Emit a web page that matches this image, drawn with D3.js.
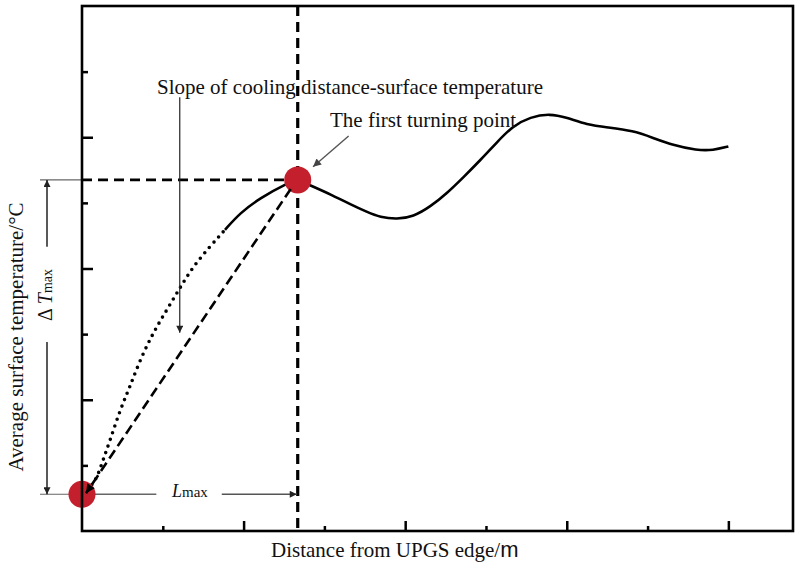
<!DOCTYPE html>
<html>
<head>
<meta charset="utf-8">
<script src="https://cdn.jsdelivr.net/npm/d3@7"></script>
<style>
  html, body { margin: 0; padding: 0; background: #fff; }
  svg { display: block; }
  text { font-family: 'Liberation Serif', 'Times New Roman', serif; fill: #111; }
</style>
</head>
<body>
<div id="chart"></div>
<script>
// rising part, from the pavement edge to the first turning point
const risingX = [0, 0.10, 0.19, 0.26, 0.35, 0.47, 0.59, 0.72, 0.88, 1.05, 1.21, 1.37, 1.58, 1.77, 1.96, 2.20, 2.54, 2.67];
const risingY = [0.56, 0.66, 0.82, 1.08, 1.39, 1.84, 2.19, 2.61, 3.02, 3.37, 3.70, 4.02, 4.33, 4.59, 4.85, 5.07, 5.30, 5.35];
// after the first turning point
const afterX = [2.67, 2.82, 3.11, 3.32, 3.53, 3.69, 3.90, 4.10, 4.31, 4.52, 4.72, 4.93, 5.14, 5.33, 5.55, 5.79, 6.00, 6.25, 6.50, 6.82, 7.07, 7.31, 7.61, 7.81, 8.00];
const afterY = [5.35, 5.27, 5.11, 4.98, 4.86, 4.78, 4.75, 4.79, 4.94, 5.15, 5.39, 5.65, 5.93, 6.17, 6.31, 6.36, 6.30, 6.19, 6.15, 6.10, 5.99, 5.88, 5.80, 5.80, 5.86];
const dottedUntil = 1.77;

const xMajorTicks = [2, 4, 6, 8];
const xMinorTicks = [1, 3, 5, 7];
const yMajorTicks = [2, 4, 6];
const yMinorTicks = [1, 3, 5, 7];

const startPt = { x: risingX[0], y: risingY[0] };
const turnPt = { x: risingX[risingX.length - 1], y: risingY[risingY.length - 1] };

const W = 800, H = 570;
const margin = { left: 82, top: 6, right: 7, bottom: 39 };
const width = W - margin.left - margin.right;
const height = H - margin.top - margin.bottom;

const svg = d3.select('#chart').append('svg')
  .attr('width', W)
  .attr('height', H);

const defs = svg.append('defs');
function marker(id, color, w, h) {
  defs.append('marker')
    .attr('id', id)
    .attr('viewBox', '0 0 10 10')
    .attr('refX', 10)
    .attr('refY', 5)
    .attr('markerUnits', 'userSpaceOnUse')
    .attr('markerWidth', w)
    .attr('markerHeight', h)
    .attr('orient', 'auto')
    .append('path')
    .attr('d', 'M0,0 L10,5 L0,10 z')
    .attr('fill', color);
}
marker('arrowThin', '#222', 9, 7);
marker('arrowGray', '#444', 10, 8);
marker('arrowBold', '#000', 11, 9);

const g = svg.append('g')
  .attr('transform', `translate(${margin.left},${margin.top})`);

const x = d3.scaleLinear().domain([0, 8.8]).range([0, width]);
const y = d3.scaleLinear().domain([0, 8]).range([height, 0]);

// ticks (inside the frame, no labels)
function tickAxis(axis, values, size, transform) {
  const a = g.append('g')
    .attr('transform', transform)
    .call(axis.tickValues(values).tickSizeInner(-size).tickSizeOuter(0).tickFormat(''));
  a.select('.domain').remove();
  a.selectAll('line').attr('stroke', '#000').attr('stroke-width', 2.5);
}
tickAxis(d3.axisBottom(x), xMajorTicks, 10, `translate(0,${height})`);
tickAxis(d3.axisBottom(x), xMinorTicks, 5, `translate(0,${height})`);
tickAxis(d3.axisLeft(y), yMajorTicks, 11, 'translate(0,0)');
tickAxis(d3.axisLeft(y), yMinorTicks, 6, 'translate(0,0)');

// reference dashed lines through the turning point
g.append('line')
  .attr('x1', x(turnPt.x)).attr('x2', x(turnPt.x))
  .attr('y1', 0).attr('y2', height)
  .attr('stroke', '#000').attr('stroke-width', 3.2)
  .attr('stroke-dasharray', '10,6');
g.append('line')
  .attr('x1', x(0)).attr('x2', x(turnPt.x))
  .attr('y1', y(turnPt.y)).attr('y2', y(turnPt.y))
  .attr('stroke', '#000').attr('stroke-width', 2.6)
  .attr('stroke-dasharray', '10,6');

// curves
const line = d3.line()
  .x(d => x(d[0]))
  .y(d => y(d[1]))
  .curve(d3.curveBasis);

const rising = risingX.map((v, i) => [v, risingY[i]]);
const after = afterX.map((v, i) => [v, afterY[i]]);
const dotted = rising.filter(d => d[0] <= dottedUntil);
const solid = rising.filter(d => d[0] >= dottedUntil);

g.append('path')
  .datum(dotted)
  .attr('d', line)
  .attr('fill', 'none')
  .attr('stroke', '#000')
  .attr('stroke-width', 3.6)
  .attr('stroke-linecap', 'round')
  .attr('stroke-dasharray', '0,7');

g.append('path')
  .datum(solid.concat(after.slice(1)))
  .attr('d', line)
  .attr('fill', 'none')
  .attr('stroke', '#000')
  .attr('stroke-width', 2.6)
  .attr('stroke-linejoin', 'round');

// thin guide lines left of the axis
[startPt.y, turnPt.y].forEach(v => {
  g.append('line')
    .attr('x1', -42).attr('x2', x(0))
    .attr('y1', y(v)).attr('y2', y(v))
    .attr('stroke', '#666').attr('stroke-width', 1.2);
});

// Lmax arrow
g.append('line')
  .attr('x1', x(startPt.x)).attr('x2', x(0.92))
  .attr('y1', y(startPt.y)).attr('y2', y(startPt.y))
  .attr('stroke', '#666').attr('stroke-width', 1.3);
g.append('line')
  .attr('x1', x(1.73)).attr('x2', x(turnPt.x) - 1)
  .attr('y1', y(startPt.y)).attr('y2', y(startPt.y))
  .attr('stroke', '#555').attr('stroke-width', 1.3)
  .attr('marker-end', 'url(#arrowThin)');

// red points
g.selectAll('circle.pt')
  .data([startPt, turnPt])
  .enter()
  .append('circle')
  .attr('class', 'pt')
  .attr('cx', d => x(d.x))
  .attr('cy', d => y(d.y))
  .attr('r', 13.5)
  .attr('fill', '#c41f2c');

// slope line (dashed, arrow at the start point)
g.append('line')
  .attr('x1', x(turnPt.x) - 7).attr('y1', y(turnPt.y) + 9)
  .attr('x2', x(startPt.x) + 4).attr('y2', y(startPt.y) - 1)
  .attr('stroke', '#000').attr('stroke-width', 2.6)
  .attr('stroke-dasharray', '10,5')
  .attr('marker-end', 'url(#arrowBold)');

// Slope annotation arrow
g.append('line')
  .attr('x1', x(1.21)).attr('x2', x(1.21))
  .attr('y1', y(6.61)).attr('y2', y(3.02))
  .attr('stroke', '#222').attr('stroke-width', 1.2)
  .attr('marker-end', 'url(#arrowThin)');

// turning point annotation arrow
g.append('line')
  .attr('x1', x(3.30)).attr('y1', y(6.02))
  .attr('x2', x(2.86)).attr('y2', y(5.55))
  .attr('stroke', '#555').attr('stroke-width', 1.4)
  .attr('marker-end', 'url(#arrowGray)');

// frame
g.append('rect')
  .attr('x', 0).attr('y', 0)
  .attr('width', width).attr('height', height)
  .attr('fill', 'none')
  .attr('stroke', '#000')
  .attr('stroke-width', 2.6);

// delta T arrows (left of the axis)
const dtX = -35;
g.append('line')
  .attr('x1', dtX).attr('x2', dtX)
  .attr('y1', y(4.33)).attr('y2', y(turnPt.y))
  .attr('stroke', '#222').attr('stroke-width', 1.5)
  .attr('marker-end', 'url(#arrowThin)');
g.append('line')
  .attr('x1', dtX).attr('x2', dtX)
  .attr('y1', y(2.88)).attr('y2', y(startPt.y))
  .attr('stroke', '#222').attr('stroke-width', 1.5)
  .attr('marker-end', 'url(#arrowThin)');

// texts
svg.append('text')
  .attr('x', 157).attr('y', 94)
  .attr('font-size', 21)
  .text('Slope of cooling distance-surface temperature');

svg.append('text')
  .attr('x', 330).attr('y', 127)
  .attr('font-size', 21)
  .text('The first turning point');

const lmax = svg.append('text')
  .attr('x', 172).attr('y', 497);
lmax.append('tspan').attr('font-size', 18).attr('font-style', 'italic').text('L');
lmax.append('tspan').attr('font-size', 15).text('max');

const dt = svg.append('text')
  .attr('transform', 'translate(52,295) rotate(-90)')
  .attr('text-anchor', 'middle');
dt.append('tspan').attr('font-size', 20).text('\u0394 ');
dt.append('tspan').attr('font-size', 20).attr('font-style', 'italic').text('T');
dt.append('tspan').attr('font-size', 14).text('max');

svg.append('text')
  .attr('transform', 'translate(23,337) rotate(-90)')
  .attr('text-anchor', 'middle')
  .attr('font-size', 21)
  .text('Average surface temperature/\u00b0C');

const xl = svg.append('text')
  .attr('x', 271).attr('y', 557)
  .attr('font-size', 21);
xl.append('tspan').text('Distance from UPGS edge/');
xl.append('tspan')
  .style('font-family', "'Liberation Sans', Arial, sans-serif")
  .attr('font-size', 22)
  .text('m');
</script>
</body>
</html>
